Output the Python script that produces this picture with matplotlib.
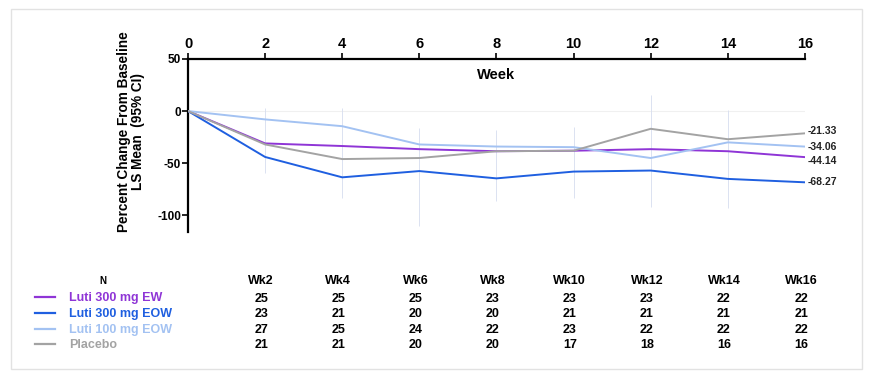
import matplotlib.pyplot as plt
from matplotlib.patches import Rectangle
import matplotlib.transforms as mtransforms

plt.rcParams["font.family"] = ["Liberation Sans", "DejaVu Sans"]
plt.rcParams["axes.unicode_minus"] = False

# weeks and LS mean percent change per arm
weeks = [0, 2, 4, 6, 8, 10, 12, 14, 16]
ew_300 = [0, -31, -33.5, -36.5, -38.5, -38, -36.5, -38.5, -44.14]
eow_300 = [0, -44, -63.5, -57.5, -64.5, -58, -57, -65, -68.27]
eow_100 = [0, -8, -14.5, -32, -34, -34.6, -45, -30, -34.06]
placebo = [0, -32, -46, -45, -38.5, -38, -17, -27, -21.33]

# 95% CI envelope at each visit
ci_weeks = [2, 4, 6, 8, 10, 12, 14, 16]
ci_top = [3, 3, -16, -18, -15, 15, 1, 13]
ci_bottom = [-59, -83, -110, -86, -83, -92, -93, -112]

labels = ["Luti 300 mg EW", "Luti 300 mg EOW", "Luti 100 mg EOW", "Placebo"]
colors = ["#8f35d6", "#1f5fe0", "#a3c2f2", "#a3a3a3"]
series = [ew_300, eow_300, eow_100, placebo]

# patients at risk table
n_weeks = ["Wk2", "Wk4", "Wk6", "Wk8", "Wk10", "Wk12", "Wk14", "Wk16"]
n_ew_300 = [25, 25, 25, 23, 23, 23, 22, 22]
n_eow_300 = [23, 21, 20, 20, 21, 21, 21, 21]
n_eow_100 = [27, 25, 24, 22, 23, 22, 22, 22]
n_placebo = [21, 21, 20, 20, 17, 18, 16, 16]
n_rows = [n_ew_300, n_eow_300, n_eow_100, n_placebo]

fig = plt.figure(figsize=(8.72, 3.75), dpi=100)
fig.patches.append(Rectangle((0.013, 0.015), 0.975, 0.96, transform=fig.transFigure,
                             fill=False, edgecolor="#e2e2e2", linewidth=1))

ax = fig.add_axes([0.2156, 0.381, 0.7075, 0.462])

# faint CI bars
ax.vlines(ci_weeks, ci_bottom, ci_top, color="#d6ddef", linewidth=0.6, zorder=1)
ax.axhline(0, color="#f0f0f0", linewidth=0.8, zorder=0)

for vals, c in zip(series, colors):
    ax.plot(weeks, vals, color=c, linewidth=1.4, zorder=3)

# end-of-study values
offsets = [-3, 0, 0, 2]
for vals, off in zip(series, offsets):
    ax.annotate(f"{vals[-1]:.2f}", (weeks[-1], vals[-1]), xytext=(2, off),
                textcoords="offset points", fontsize=7.5, fontweight="bold",
                va="center", ha="left", color="#222222")

ax.set_xlim(0, 16)
ax.set_ylim(-116, 50)
ax.set_xticks(range(0, 17, 2))
ax.set_yticks([-100, -50, 0, 50])
ax.xaxis.tick_top()
ax.spines["right"].set_visible(False)
ax.spines["bottom"].set_visible(False)
ax.spines["top"].set_position(("data", 50))
ax.spines["left"].set_linewidth(1.6)
ax.spines["top"].set_linewidth(1.6)
ax.tick_params(axis="x", length=4, width=1.2, labelsize=10.5, pad=2)
ax.tick_params(axis="y", length=4, width=1.2, labelsize=8.5, pad=1)
for t in ax.get_xticklabels() + ax.get_yticklabels():
    t.set_fontweight("bold")

ax.text(8.0, 35, "Week", fontsize=10.5, fontweight="bold", ha="center", va="center")
fig.text(0.150, 0.648, "Percent Change From Baseline\nLS Mean  (95% CI)", rotation=90,
         fontsize=9.8, fontweight="bold", ha="center", va="center", linespacing=1.05)

# N table under the plot
trans = mtransforms.blended_transform_factory(ax.transData, fig.transFigure)
fig.text(0.118, 0.252, "N", fontsize=7, fontweight="bold", ha="center", va="center")
row_y = [0.204, 0.163, 0.121, 0.080]
for wk, name in zip(ci_weeks, n_weeks):
    ax.text(wk - 0.1, 0.250, name, transform=trans, fontsize=9, fontweight="bold",
            ha="center", va="center")
for row, y in zip(n_rows, row_y):
    for wk, n in zip(ci_weeks, row):
        ax.text(wk - 0.1, y, str(n), transform=trans, fontsize=9, fontweight="bold",
                ha="center", va="center")
for lab, c, y in zip(labels, colors, row_y):
    fig.add_artist(plt.Line2D([0.040, 0.063], [y + 0.003, y + 0.003], color=c,
                              linewidth=1.6, transform=fig.transFigure))
    fig.text(0.079, y, lab, fontsize=9, fontweight="bold", color=c, ha="left", va="center")

fig.savefig("out.png", dpi=100)
